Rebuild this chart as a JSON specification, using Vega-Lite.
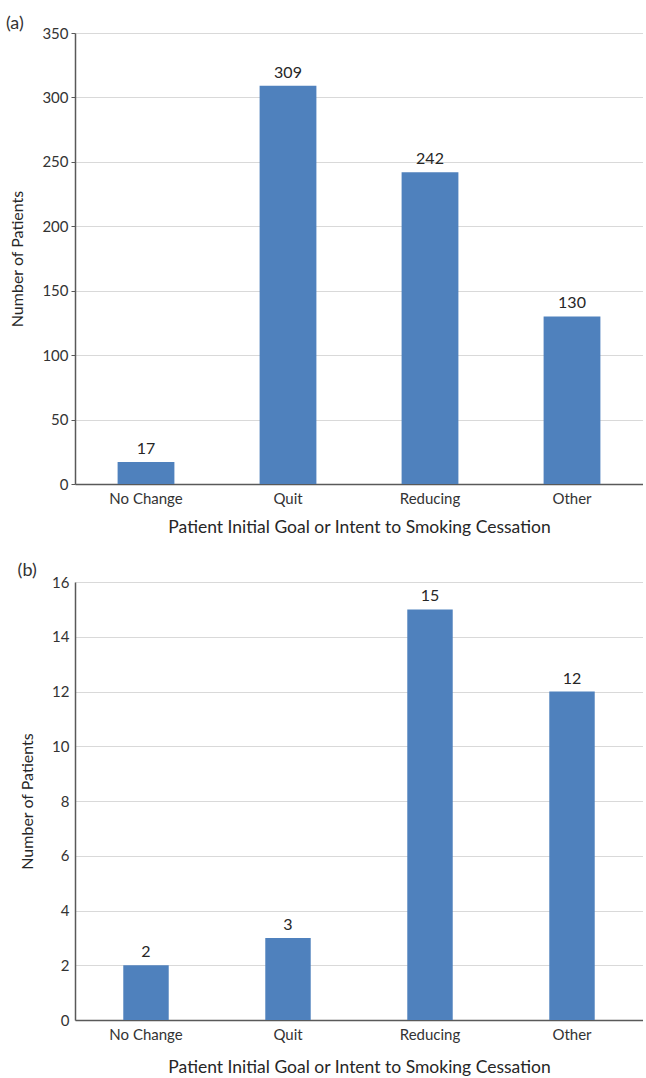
{
  "$schema": "https://vega.github.io/schema/vega-lite/v6.json",
  "padding": {"left": 5, "top": 15, "right": 0, "bottom": 0},
  "background": "white",
  "datasets": {
    "a": [
      {"goal": "No Change", "n": 17},
      {"goal": "Quit", "n": 309},
      {"goal": "Reducing", "n": 242},
      {"goal": "Other", "n": 130}
    ],
    "b": [
      {"goal": "No Change", "n": 2},
      {"goal": "Quit", "n": 3},
      {"goal": "Reducing", "n": 15},
      {"goal": "Other", "n": 12}
    ]
  },
  "config": {
    "font": "Lato",
    "view": {"stroke": null},
    "axis": {
      "labelFont": "Lato",
      "titleFont": "Lato",
      "labelColor": "#333333",
      "titleColor": "#262626",
      "titleFontWeight": "normal",
      "labelFontSize": 15,
      "domainColor": "#595959",
      "domainWidth": 1.5,
      "tickColor": "#595959",
      "gridColor": "#d9d9d9",
      "gridWidth": 1
    },
    "title": {"font": "Lato", "fontWeight": "normal", "fontSize": 18, "color": "#333333"}
  },
  "spacing": 26,
  "vconcat": [
    {
      "data": {"name": "a"},
      "width": 568,
      "height": 451,
      "title": {"text": "(a)", "anchor": "start", "frame": "bounds", "offset": -7, "dx": -4, "fontSize": 18},
      "encoding": {
        "x": {
          "field": "goal", "type": "nominal",
          "sort": ["No Change", "Quit", "Reducing", "Other"],
          "scale": {"paddingInner": 0.6, "paddingOuter": 0.3},
          "axis": {"labelAngle": 0, "ticks": false, "grid": false, "labelPadding": 7, "title": "Patient Initial Goal or Intent to Smoking Cessation", "titleFontSize": 17.5, "titlePadding": 12}
        },
        "y": {
          "field": "n", "type": "quantitative",
          "scale": {"domain": [0, 350], "nice": false},
          "axis": {"values": [0, 50, 100, 150, 200, 250, 300, 350], "title": "Number of Patients", "titleFontSize": 16, "titlePadding": 16, "tickSize": 4, "labelPadding": 3}
        }
      },
      "layer": [
        {"mark": {"type": "bar", "color": "#4f81bd"}},
        {"mark": {"type": "text", "baseline": "bottom", "dy": -5, "fontSize": 16, "color": "#262626"}, "encoding": {"text": {"field": "n", "type": "quantitative"}}}
      ]
    },
    {
      "data": {"name": "b"},
      "width": 568,
      "height": 438,
      "title": {"text": "(b)", "anchor": "start", "frame": "bounds", "offset": -5, "dx": -2, "fontSize": 18},
      "encoding": {
        "x": {
          "field": "goal", "type": "nominal",
          "sort": ["No Change", "Quit", "Reducing", "Other"],
          "scale": {"paddingInner": 0.68, "paddingOuter": 0.34},
          "axis": {"labelAngle": 0, "ticks": false, "grid": false, "labelPadding": 7, "title": "Patient Initial Goal or Intent to Smoking Cessation", "titleFontSize": 17.5, "titlePadding": 16}
        },
        "y": {
          "field": "n", "type": "quantitative",
          "scale": {"domain": [0, 16], "nice": false},
          "axis": {"values": [0, 2, 4, 6, 8, 10, 12, 14, 16], "title": "Number of Patients", "titleFontSize": 16, "titlePadding": 16, "tickSize": 0, "labelPadding": 6}
        }
      },
      "layer": [
        {"mark": {"type": "bar", "color": "#4f81bd"}},
        {"mark": {"type": "text", "baseline": "bottom", "dy": -5, "fontSize": 16, "color": "#262626"}, "encoding": {"text": {"field": "n", "type": "quantitative"}}}
      ]
    }
  ]
}
